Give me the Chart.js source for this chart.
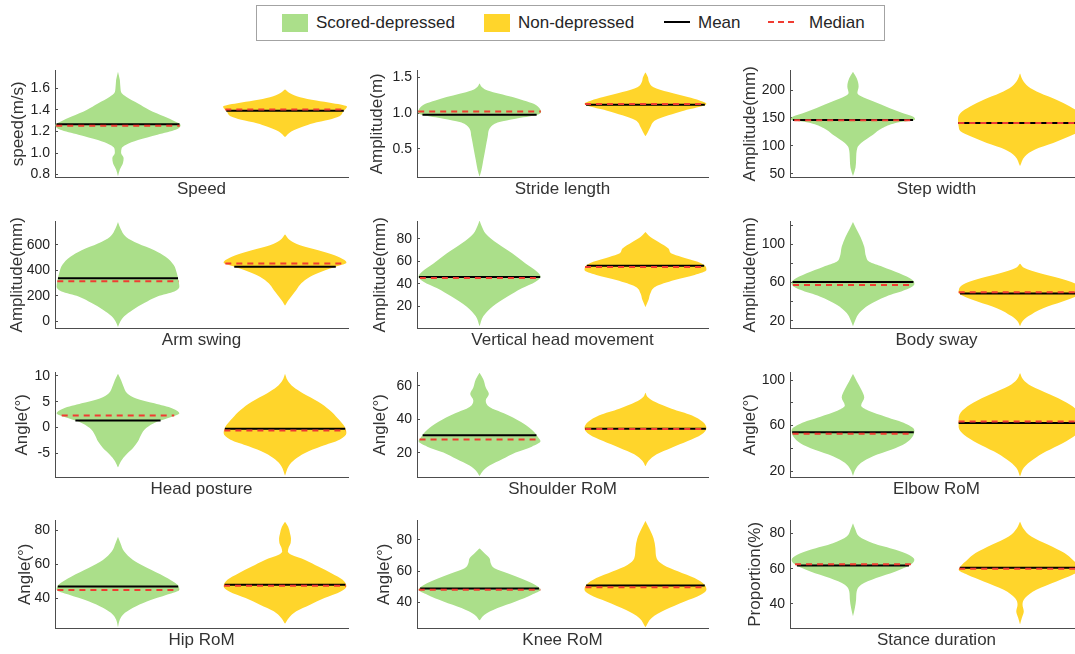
<!DOCTYPE html>
<html>
<head>
<meta charset="utf-8">
<script src="https://cdn.jsdelivr.net/npm/chart.js@4.4.1/dist/chart.umd.min.js"></script>
<style>
  html, body { margin: 0; padding: 0; background: #fff; }
  body { width: 1075px; height: 654px; position: relative; overflow: hidden;
         font-family: "Liberation Sans", Arial, sans-serif; }
  .panel { position: absolute; }
  #legend { position: absolute; left: 256px; top: 5px; width: 629px; height: 36px;
            box-sizing: border-box; border: 1px solid #a3a3a3; background: #fff; }
  .key { position: absolute; }
  .lbl { position: absolute; top: 7px; font-size: 17px; line-height: 20px; color: #262626; white-space: nowrap; }
</style>
</head>
<body>
<div id="legend">
  <div class="key" style="left:25px;top:8px;width:26px;height:18px;background:#abdf8a"></div>
  <div class="lbl" style="left:59px">Scored-depressed</div>
  <div class="key" style="left:227px;top:8px;width:26px;height:18px;background:#ffd52b"></div>
  <div class="lbl" style="left:261px">Non-depressed</div>
  <div class="key" style="left:407px;top:15px;width:26px;height:2px;background:#000"></div>
  <div class="lbl" style="left:441px">Mean</div>
  <div class="key" style="left:511px;top:15px;width:26px;height:2px;background:repeating-linear-gradient(to right,#f03c32 0 6px,transparent 6px 10px)"></div>
  <div class="lbl" style="left:552px">Median</div>
</div>
<script>
// ---- data ----
const panelTitles = ['Speed', 'Stride length', 'Step width', 'Arm swing', 'Vertical head movement', 'Body sway',
  'Head posture', 'Shoulder RoM', 'Elbow RoM', 'Hip RoM', 'Knee RoM', 'Stance duration'];
const yTitles = ['speed(m/s)', 'Amplitude(m)', 'Amplitude(mm)', 'Amplitude(mm)', 'Amplitude(mm)', 'Amplitude(mm)',
  'Angle(°)', 'Angle(°)', 'Angle(°)', 'Angle(°)', 'Angle(°)', 'Proportion(%)'];
const yLimits = [[0.772, 1.77], [0.1, 1.6], [43, 236], [-59, 789], [0.3, 96], [11.9, 124.4],
  [-9.74, 10.77], [5.2, 68.3], [14.2, 107.2], [22.1, 86], [23.4, 92.6], [26, 87.7]];
const yTicks = [[0.8, 1.0, 1.2, 1.4, 1.6], [0.5, 1.0, 1.5], [50, 100, 150, 200], [0, 200, 400, 600],
  [20, 40, 60, 80], [20, 40, 60, 80, 100, 120], [-5, 0, 5, 10], [20, 40, 60], [20, 40, 60, 80, 100],
  [40, 60, 80], [40, 60, 80], [40, 60, 80]];
const yTickLabels = [['0.8', '1.0', '1.2', '1.4', '1.6'], ['0.5', '1.0', '1.5'], ['50', '100', '150', '200'],
  ['0', '200', '400', '600'], ['20', '40', '60', '80'], ['20', '', '60', '', '100', ''], ['-5', '0', '5', '10'],
  ['20', '40', '60'], ['20', '', '60', '', '100'], ['40', '60', '80'], ['40', '60', '80'], ['40', '60', '80']];

const meanDep   = [1.267, 0.977, 146.4, 337, 46.2, 60.7, 1.35, 30.5, 54.2, 46.9, 49.0, 61.9];
const medianDep = [1.252, 1.023, 146.0, 314, 45.3, 57.6, 2.31, 28.0, 52.8, 44.8, 48.2, 62.5];
const meanNon   = [1.391, 1.116, 141.0, 429, 56.2, 48.6, -0.26, 34.4, 62.3, 47.9, 50.9, 60.6];
const medianNon = [1.403, 1.125, 141.0, 455, 55.0, 50.0, -0.58, 34.2, 63.7, 47.3, 49.8, 60.0];

// violin outlines: [value, relative half width]
const speedDep = [[0.785,0],[0.846,0.03],[0.908,0.08],[0.954,0.09],[1.0,0.05],[1.046,0.06],[1.077,0.13],[1.12,0.32],[1.169,0.63],[1.215,0.92],[1.26,1.0],[1.29,0.92],[1.338,0.74],[1.40,0.5],[1.46,0.32],[1.523,0.13],[1.554,0.06],[1.6,0.04],[1.677,0.03],[1.754,0]];
const speedNon = [[1.148,0],[1.2,0.1],[1.246,0.29],[1.277,0.45],[1.308,0.7],[1.338,0.86],[1.385,0.93],[1.431,0.99],[1.446,0.92],[1.462,0.76],[1.486,0.5],[1.517,0.24],[1.554,0.08],[1.591,0]];
const strideDep = [[0.111,0],[0.204,0.03],[0.343,0.06],[0.528,0.1],[0.667,0.13],[0.806,0.18],[0.875,0.32],[0.921,0.58],[0.968,0.9],[1.014,0.99],[1.06,0.97],[1.13,0.87],[1.176,0.71],[1.222,0.53],[1.269,0.32],[1.315,0.13],[1.361,0.04],[1.417,0]];
const strideNon = [[0.676,0],[0.736,0.04],[0.806,0.08],[0.898,0.16],[0.968,0.37],[1.037,0.63],[1.097,0.92],[1.13,0.98],[1.176,0.87],[1.222,0.68],[1.292,0.37],[1.361,0.13],[1.43,0.06],[1.5,0.04],[1.569,0]];
const stepDep = [[45.8,0],[60.7,0.04],[75.6,0.05],[96.4,0.07],[105,0.13],[120,0.32],[132,0.47],[141,0.68],[147,0.99],[151.8,0.97],[158.9,0.79],[167.9,0.58],[179.8,0.32],[188.7,0.13],[194.6,0.07],[206.5,0.09],[221,0.06],[233,0]];
const stepNon = [[63.7,0],[81.5,0.08],[93.5,0.24],[105,0.53],[117,0.79],[126,0.95],[135,0.98],[147,0.99],[158.9,0.95],[170.8,0.79],[182.7,0.58],[194.6,0.32],[206.5,0.13],[218.5,0.04],[230,0]];
const armDep = [[-46,0],[-1.8,0.04],[37.4,0.1],[90,0.24],[142,0.42],[194,0.63],[233,0.9],[272,0.98],[311,0.97],[376.5,0.94],[442,0.89],[507,0.76],[559,0.58],[611,0.32],[663.5,0.13],[729,0.04],[781,0]];
const armNon = [[121,0],[155,0.04],[194,0.1],[246,0.18],[298,0.26],[350.5,0.4],[390,0.58],[434,0.84],[460,0.98],[481,0.95],[520,0.79],[559,0.53],[598,0.24],[637,0.08],[684,0]];
const vertDep = [[2.4,0],[11.2,0.06],[20,0.21],[28.8,0.45],[36.2,0.68],[42,0.9],[46.5,0.98],[51,0.92],[58.2,0.74],[67,0.53],[75.9,0.29],[84.7,0.1],[92,0.03],[96.5,0]];
const vertNon = [[19.4,0],[25.9,0.05],[31.8,0.08],[37.6,0.16],[43.5,0.47],[48,0.79],[52.4,0.98],[55.3,0.97],[59.7,0.84],[64,0.58],[67,0.42],[71.5,0.37],[77.4,0.21],[81.8,0.08],[86.2,0]];
const swayDep = [[14.3,0],[21.2,0.04],[28.1,0.1],[36.8,0.26],[45.5,0.53],[52.4,0.84],[58.6,0.98],[62.8,0.95],[69.7,0.74],[76.6,0.47],[81.8,0.26],[87,0.21],[97.4,0.18],[107.8,0.12],[116.5,0.05],[123.4,0]];
const swayNon = [[14.3,0],[19.5,0.04],[24.7,0.13],[33.3,0.37],[40.3,0.68],[45.5,0.89],[49.6,0.98],[54.1,0.97],[59.3,0.87],[64.5,0.63],[69.7,0.32],[74.9,0.08],[80,0]];
const headDep = [[-7.8,0],[-6.5,0.05],[-5.3,0.13],[-4,0.24],[-2.7,0.32],[-1.4,0.37],[-0.13,0.45],[1.15,0.63],[1.99,0.84],[2.76,0.98],[3.7,0.87],[4.68,0.58],[5.64,0.29],[6.6,0.15],[7.9,0.09],[9.17,0.05],[10.45,0]];
const headNon = [[-9.4,0],[-7.5,0.06],[-6.2,0.16],[-4.94,0.32],[-3.65,0.58],[-2.37,0.87],[-1.09,0.98],[0.19,0.95],[1.8,0.84],[3.4,0.71],[5,0.53],[6.6,0.29],[7.9,0.13],[9.17,0.04],[10.45,0]];
const shoulderDep = [[6.2,0],[9.5,0.06],[12.4,0.16],[16.3,0.37],[20.2,0.58],[23.7,0.84],[27,0.98],[28.9,0.95],[33.8,0.84],[38.6,0.66],[43.5,0.4],[47.4,0.16],[51.3,0.1],[55.1,0.15],[59,0.1],[63.9,0.06],[67.8,0]];
const shoulderNon = [[12,0],[15.3,0.05],[19.2,0.18],[23.1,0.42],[27,0.68],[30.9,0.9],[34.8,0.98],[38.6,0.92],[42.5,0.74],[46.4,0.42],[50.3,0.16],[53.2,0.04],[56.1,0]];
const elbowDep = [[15.7,0],[21.4,0.04],[27.2,0.13],[33,0.32],[38.7,0.61],[44.5,0.84],[50.2,0.95],[56,0.98],[61.7,0.84],[67.5,0.53],[73.2,0.24],[77.6,0.13],[84.7,0.18],[92,0.13],[99.1,0.06],[105.5,0]];
const elbowNon = [[15.1,0],[22.9,0.06],[30.1,0.21],[37.3,0.42],[44.5,0.68],[51.7,0.89],[58.8,0.98],[66,0.98],[73.2,0.92],[80.4,0.74],[87.6,0.47],[94.8,0.18],[100.6,0.05],[106.3,0]];
const hipDep = [[22.9,0],[27.4,0.03],[30.3,0.08],[34.3,0.24],[38.2,0.47],[42.1,0.79],[45,0.98],[47.9,0.95],[52.8,0.74],[57.7,0.47],[62.5,0.24],[67.4,0.1],[72.3,0.04],[76.2,0]];
const hipNon = [[24.9,0],[28.4,0.06],[32.3,0.18],[36.2,0.4],[40.1,0.63],[44,0.89],[46.9,0.98],[50.8,0.92],[54.7,0.74],[58.6,0.53],[62.5,0.32],[65.5,0.1],[67.4,0.045],[70,0.06],[72.5,0.09],[75.2,0.095],[78.1,0.08],[82,0.05],[85,0]];
const kneeDep = [[28.5,0],[32.3,0.08],[36.5,0.29],[40.7,0.58],[45,0.84],[48.1,0.98],[51.3,0.89],[55.1,0.68],[58.7,0.45],[61.9,0.24],[65.1,0.18],[68.3,0.16],[71.4,0.08],[74.6,0]];
const kneeNon = [[24.2,0],[30.2,0.1],[35.4,0.32],[40.7,0.63],[45,0.89],[48.1,0.98],[51.3,0.95],[55.6,0.79],[59.8,0.53],[64,0.29],[68.3,0.18],[74.6,0.16],[81,0.13],[87.3,0.06],[92,0]];
const stanceDep = [[33,0],[37.7,0.03],[42.5,0.05],[47.2,0.06],[50.9,0.13],[54.7,0.37],[58.5,0.68],[62.3,0.92],[65.1,0.98],[67.9,0.89],[70.8,0.68],[74.5,0.32],[78.3,0.1],[82.1,0.04],[85.8,0]];
const stanceNon = [[28.3,0],[32.1,0.03],[35.8,0.06],[39.6,0.04],[43.4,0.08],[48.1,0.26],[52.8,0.58],[56.6,0.84],[59.4,0.98],[61.3,0.95],[65.1,0.84],[68.9,0.71],[73.6,0.45],[78.3,0.18],[83,0.05],[86.8,0]];

const depProfiles = [speedDep, strideDep, stepDep, armDep, vertDep, swayDep, headDep, shoulderDep, elbowDep, hipDep, kneeDep, stanceDep];
const nonProfiles = [speedNon, strideNon, stepNon, armNon, vertNon, swayNon, headNon, shoulderNon, elbowNon, hipNon, kneeNon, stanceNon];

// ---- styling / layout ----
const GREEN = '#abdf8a';
const YELLOW = '#ffd52b';
const RED = '#f03c32';
const AXIS = '#4d4d4d';
const FONT = '"Liberation Sans", Arial, sans-serif';
const HALF_WIDTH = 0.375;
const X_RANGE = [0.623, 2.377];
const Y_AXIS_W = 60;
const PAD_TOP = 22;   // must exceed the room Chart.js keeps for the top tick label
const colAxisX = [55, 417, 790];
const colPlotW = [293, 291, 293];
const rowTop = [70, 221, 372, 520];
const rowBottom = [178, 329, 478, 629];
const yTitleOffset = [37, 40, 40, 37.5, 37, 40, 32.5, 37, 40, 30, 32.5, 34.5];

Chart.defaults.font.family = FONT;

function widthAt(profile, v) {
  for (let k = 1; k < profile.length; k++) {
    const [v0, w0] = profile[k - 1];
    const [v1, w1] = profile[k];
    if (v >= v0 && v <= v1) return w0 + (w1 - w0) * (v - v0) / (v1 - v0);
  }
  return 0;
}

function violinSets(profile, center, color) {
  const base = { pointRadius: 0, borderWidth: 0, cubicInterpolationMode: 'monotone', order: 5 };
  return [
    { ...base, data: profile.map(([v, w]) => ({ x: center + w * HALF_WIDTH, y: v })), fill: '+1', backgroundColor: color, borderColor: color },
    { ...base, data: profile.map(([v, w]) => ({ x: center - w * HALF_WIDTH, y: v })), fill: false, borderColor: color }
  ];
}

function statLine(profile, center, value, isMedian) {
  const w = widthAt(profile, value) * HALF_WIDTH;
  return {
    data: [{ x: center - w, y: value }, { x: center + w, y: value }],
    borderColor: isMedian ? RED : '#000',
    borderWidth: 2,
    borderDash: isMedian ? [6, 5] : [],
    pointRadius: 0,
    fill: false,
    order: isMedian ? 0 : 1
  };
}

panelTitles.forEach((title, i) => {
  const col = i % 3, row = Math.floor(i / 3);
  const plotH = rowBottom[row] - rowTop[row];
  const xAxisH = 17 * 1.2 + 2;
  const w = Y_AXIS_W + colPlotW[col] + 2;
  const h = Math.round(PAD_TOP + plotH + xAxisH);

  const div = document.createElement('div');
  div.className = 'panel';
  div.style.left = (colAxisX[col] - Y_AXIS_W) + 'px';
  div.style.top = (rowTop[row] - PAD_TOP) + 'px';
  div.style.width = w + 'px';
  div.style.height = h + 'px';
  const canvas = document.createElement('canvas');
  canvas.width = w;
  canvas.height = h;
  div.appendChild(canvas);
  document.body.appendChild(div);

  const dep = depProfiles[i], non = nonProfiles[i];
  const datasets = [
    statLine(dep, 1, medianDep[i], true),
    statLine(dep, 1, meanDep[i], false),
    statLine(non, 2, medianNon[i], true),
    statLine(non, 2, meanNon[i], false),
    ...violinSets(dep, 1, GREEN),
    ...violinSets(non, 2, YELLOW)
  ];

  new Chart(canvas, {
    type: 'line',
    data: { datasets },
    options: {
      responsive: false,
      animation: false,
      indexAxis: 'y',
      layout: { padding: { top: PAD_TOP, right: 2, bottom: 0, left: 0 } },
      plugins: { legend: { display: false }, tooltip: { enabled: false } },
      scales: {
        x: {
          type: 'linear', min: X_RANGE[0], max: X_RANGE[1],
          ticks: { display: false },
          grid: { display: false, drawTicks: false },
          border: { display: true, color: AXIS, width: 1 },
          title: { display: true, text: title, color: '#333', font: { size: 17 }, padding: { top: 2, bottom: 0 } }
        },
        y: {
          type: 'linear', min: yLimits[i][0], max: yLimits[i][1],
          afterBuildTicks: s => { s.ticks = yTicks[i].map(v => ({ value: v })); },
          afterFit: s => { s.width = Y_AXIS_W; },
          ticks: { autoSkip: false, color: '#222', font: { size: 14 }, padding: 8,
                   callback: (v, idx) => yTickLabels[i][idx] },
          grid: { display: true, drawOnChartArea: false, drawTicks: true, tickLength: -3, color: AXIS },
          border: { display: true, color: AXIS, width: 1 },
          title: { display: true, text: yTitles[i], color: '#333', font: { size: 17 },
                   padding: { top: Y_AXIS_W - yTitleOffset[i] - 10.2, bottom: 0 } }
        }
      }
    }
  });
});
</script>
</body>
</html>
